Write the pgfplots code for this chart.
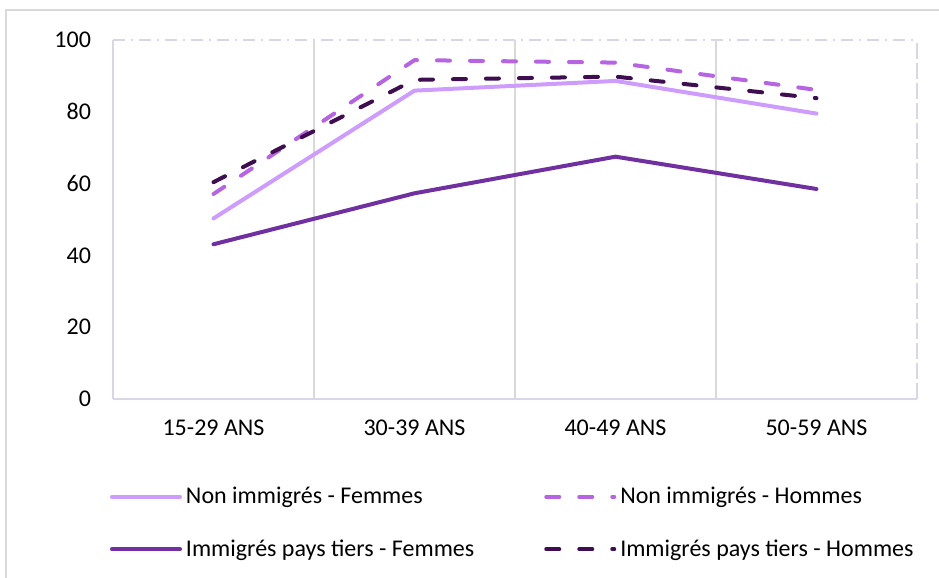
\documentclass[border=0pt]{standalone}
\usepackage{fontspec}
\setmainfont{Carlito}
\usepackage{pgfplots}
\pgfplotsset{compat=1.18}
\definecolor{nif}{RGB}{206,156,252}
\definecolor{nih}{RGB}{182,100,226}
\definecolor{imf}{RGB}{112,48,160}
\definecolor{imh}{RGB}{62,14,80}
\definecolor{axlav}{RGB}{217,214,232}
\definecolor{gridg}{RGB}{217,217,217}
\definecolor{frameg}{RGB}{217,217,217}
\begin{document}
\begin{tikzpicture}
\useasboundingbox (-56.5pt,-89.5pt) rectangle (413pt,199.5pt);
\draw[frameg, line width=0.75pt] (-53.5pt,-89.5pt) -- (-53.5pt,194.5pt) -- (413pt,194.5pt);
\begin{axis}[
  at={(0,0)}, anchor=south west,
  scale only axis, width=402pt, height=179.5pt,
  xmin=-0.5, xmax=3.5, ymin=0, ymax=100,
  xtick={0,1,2,3},
  xticklabels={15-29 ANS,30-39 ANS,40-49 ANS,50-59 ANS},
  ytick={0,20,40,60,80,100},
  minor xtick={0.5,1.5,2.5},
  xminorgrids,
  minor grid style={gridg, line width=0.75pt},
  axis x line*=bottom, axis y line*=left,
  axis line style={axlav, line width=0.75pt},
  major tick length=0pt, minor tick length=0pt,
  tick style={draw=none},
  /pgf/number format/assume math mode=true,
  ticklabel style={font=\fontsize{12}{14.4}\selectfont, text=black},
  xticklabel style={yshift=-7pt},
  yticklabel style={xshift=-7.5pt},
  clip=false,
  every axis plot/.append style={line width=2pt, line cap=round, line join=round},
  legend columns=2,
  legend cell align=left,
  legend image code/.code={\draw[#1] (0pt,0pt) -- (34pt,0pt);},
  legend style={draw=none, fill=none, inner sep=0pt, outer sep=0pt,
    at={(axis description cs:0,0)}, anchor=north west,
    xshift=-1.5pt, yshift=-44pt,
    font=\fontsize{12}{14.4}\selectfont,
    nodes={inner sep=0pt, text=black},
    row sep=16.5pt,
    /tikz/every odd column/.append style={column sep=2pt},
    /tikz/every even column/.append style={column sep=35pt}},
]
\addplot[nif] coordinates {(0,50.3) (1,85.9) (2,88.6) (3,79.5)};
\addlegendentry{Non immigrés - Femmes}
\addplot[nih, dash pattern=on 6.5pt off 10pt] coordinates {(0,57.1) (1,94.4) (2,93.7) (3,86.1)};
\addlegendentry{Non immigrés - Hommes}
\addplot[imf] coordinates {(0,43.1) (1,57.3) (2,67.5) (3,58.5)};
\addlegendentry{Immigrés pays tiers - Femmes}
\addplot[imh, dash pattern=on 6.5pt off 10pt] coordinates {(0,60.4) (1,88.9) (2,89.8) (3,83.8)};
\addlegendentry{Immigrés pays tiers - Hommes}
\draw[axlav, line width=0.75pt, dash pattern=on 6pt off 3pt on 1pt off 3pt] (rel axis cs:0,1) -- (rel axis cs:1,1);
\draw[axlav, line width=0.75pt, dash pattern=on 8pt off 2pt] (rel axis cs:1,0) -- (rel axis cs:1,1);
\end{axis}
\end{tikzpicture}
\end{document}
